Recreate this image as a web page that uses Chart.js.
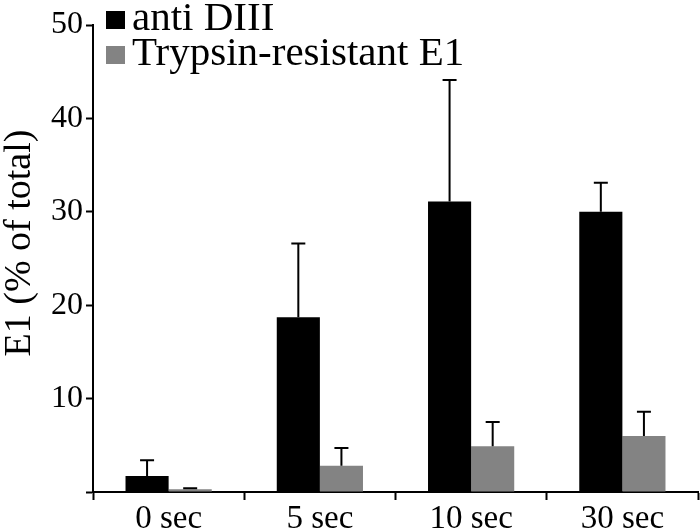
<!DOCTYPE html>
<html>
<head>
<meta charset="utf-8">
<script src="https://cdn.jsdelivr.net/npm/chart.js@4/dist/chart.umd.min.js"></script>
<style>
  html, body { margin: 0; padding: 0; background: #fff; }
  #wrap { width: 700px; height: 530px; }
</style>
</head>
<body>
<div id="wrap"><canvas id="c"></canvas></div>
<script>
const labels = ['0 sec', '5 sec', '10 sec', '30 sec'];
const antiDIII = [1.7, 18.7, 31.1, 30.0];
const antiDIIIErr = [1.7, 7.9, 13.0, 3.1];
const trypsin = [0.3, 2.8, 4.9, 6.0];
const trypsinErr = [0.1, 1.9, 2.6, 2.6];
const yTicks = [0, 10, 20, 30, 40, 50];
const yTitle = 'E1 (% of total)';

const serif = "'Liberation Serif', 'Times New Roman', Times, serif";

// upward-only error bars with caps
const errorBars = {
  id: 'errorBars',
  afterDatasetsDraw(chart) {
    const ctx = chart.ctx;
    const y = chart.scales.y;
    const errs = [antiDIIIErr, trypsinErr];
    ctx.save();
    ctx.strokeStyle = '#000';
    ctx.lineWidth = 2;
    chart.data.datasets.forEach((ds, i) => {
      chart.getDatasetMeta(i).data.forEach((bar, j) => {
        const top = y.getPixelForValue(ds.data[j] + errs[i][j]);
        ctx.beginPath();
        ctx.moveTo(bar.x, bar.y);
        ctx.lineTo(bar.x, top);
        ctx.moveTo(bar.x - 7, top);
        ctx.lineTo(bar.x + 7, top);
        ctx.stroke();
      });
    });
    ctx.restore();
  }
};

// legend inside the plot (top-left) + y title, placed by hand
const extras = {
  id: 'extras',
  afterDraw(chart) {
    const ctx = chart.ctx;
    ctx.save();
    ctx.font = '41px ' + serif;
    ctx.textBaseline = 'alphabetic';
    chart.data.datasets.forEach((ds, i) => {
      const base = 30 + i * 35;
      ctx.fillStyle = ds.backgroundColor;
      ctx.fillRect(106, base - 19, 19, 18);
      ctx.fillStyle = '#000';
      ctx.fillText(ds.label, 132, base);
    });
    ctx.translate(20, 243);
    ctx.rotate(-Math.PI / 2);
    ctx.font = '38px ' + serif;
    ctx.textAlign = 'center';
    ctx.textBaseline = 'middle';
    ctx.fillText(yTitle, 0, 0);
    ctx.restore();
  }
};

new Chart(document.getElementById('c'), {
  type: 'bar',
  data: {
    labels: labels,
    datasets: [
      { label: 'anti DIII', data: antiDIII, backgroundColor: '#000000' },
      { label: 'Trypsin-resistant E1', data: trypsin, backgroundColor: '#838383' }
    ]
  },
  options: {
    responsive: true,
    maintainAspectRatio: false,
    animation: false,
    layout: { padding: { top: 25, right: 2, left: 0, bottom: 0 } },
    categoryPercentage: 0.57,
    barPercentage: 1.0,
    plugins: { legend: { display: false }, tooltip: { enabled: false } },
    scales: {
      x: {
        grid: { offset: true, drawOnChartArea: false, tickLength: 8, tickColor: '#000', tickWidth: 2 },
        border: { color: '#000', width: 2 },
        ticks: { color: '#000', font: { family: serif, size: 33 }, padding: 0, maxRotation: 0 },
        afterFit(s) { s.height = 38; }
      },
      y: {
        min: 0, max: 50,
        afterBuildTicks(s) { s.ticks = yTicks.map(v => ({ value: v })); },
        grid: { drawOnChartArea: false, tickLength: 7, tickColor: '#000', tickWidth: 2 },
        border: { color: '#000', width: 2 },
        ticks: {
          color: '#000', font: { family: serif, size: 32 }, padding: 3,
          callback: v => v === 0 ? '' : v
        },
        afterFit(s) { s.width = 93; }
      }
    }
  },
  plugins: [errorBars, extras]
});
</script>
</body>
</html>
